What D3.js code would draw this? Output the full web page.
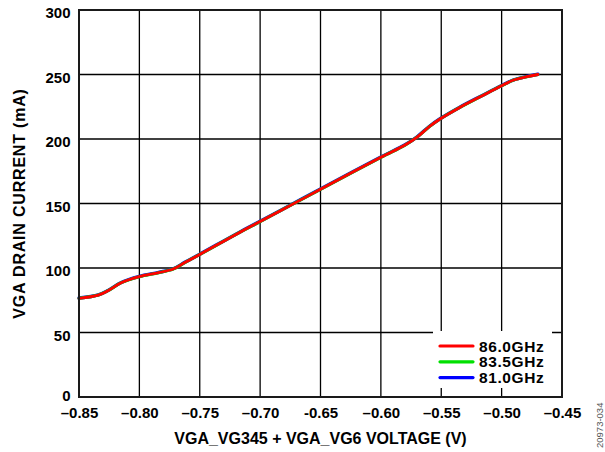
<!DOCTYPE html>
<html>
<head>
<meta charset="utf-8">
<script src="https://cdn.jsdelivr.net/npm/d3@7"></script>
<style>
  html, body { margin: 0; padding: 0; background: #fff; }
  svg { display: block; font-family: "Liberation Sans", Arial, sans-serif; font-weight: bold; }
</style>
</head>
<body>
<svg id="chart" width="605" height="452"></svg>
<script>
// ---- data ----
const voltage = [-0.85, -0.834, -0.826, -0.815, -0.80, -0.784, -0.772, -0.762, -0.75, -0.717, -0.70, -0.666, -0.65, -0.60, -0.58, -0.57, -0.56, -0.551, -0.535, -0.516, -0.50, -0.49, -0.479, -0.47];
const current86 = [76.5, 79, 82.4, 88.6, 93.3, 96.4, 99.2, 104.4, 110.5, 127.6, 136, 153, 161, 185.8, 195.3, 201.5, 209.5, 215.5, 224.3, 233.6, 241.3, 245.7, 248.3, 250];
const current835 = [76.5, 79, 82.4, 88.6, 93.3, 96.4, 99.2, 104.4, 110.5, 127.6, 136, 153, 161, 185.8, 195.3, 201.5, 209.5, 215.5, 224.3, 233.6, 241.3, 245.7, 248.3, 250];
const current81 = [76.7, 79.2, 82.6, 88.8, 93.5, 96.6, 99.4, 104.6, 110.7, 127.8, 136.2, 153.2, 161.2, 186, 195.5, 201.7, 209.7, 215.7, 224.5, 233.8, 241.5, 245.9, 248.5, 250.2];
const seriesNames = ["86.0GHz", "83.5GHz", "81.0GHz"];
const seriesColors = ["#ff0000", "#00e000", "#0000ff"];
const xTicks = [-0.85, -0.80, -0.75, -0.70, -0.65, -0.60, -0.55, -0.50, -0.45];
const xTickLabels = ["\u20130.85", "\u20130.80", "\u20130.75", "\u20130.70", "-0.65", "\u20130.60", "\u20130.55", "\u20130.50", "\u20130.45"];
const yTicks = [0, 50, 100, 150, 200, 250, 300];

// ---- layout ----
const svg = d3.select("#chart");
const L = 79, R = 562, T = 10, B = 397;
const x = d3.scaleLinear().domain([-0.85, -0.45]).range([L, R]);
const y = d3.scaleLinear().domain([0, 300]).range([B, T]);

// grid
const g = svg.append("g");
g.selectAll("line.vx").data(xTicks).join("line")
  .attr("x1", d => x(d)).attr("x2", d => x(d)).attr("y1", T).attr("y2", B)
  .attr("stroke", "#000").attr("stroke-width", 1.3);
g.selectAll("line.hy").data(yTicks).join("line")
  .attr("y1", d => y(d)).attr("y2", d => y(d)).attr("x1", L).attr("x2", R)
  .attr("stroke", "#000").attr("stroke-width", 1.3);

// axes labels via d3 axes (tick text only)
const xAxis = svg.append("g").attr("transform", `translate(0,${B})`)
  .call(d3.axisBottom(x).tickValues(xTicks).tickFormat((d, i) => xTickLabels[i]).tickSize(0).tickPadding(0));
xAxis.select(".domain").remove();
xAxis.selectAll("text").attr("dy", null).attr("y", 21)
  .attr("font-size", 15).attr("font-weight", "bold").attr("fill", "#000")
  .attr("font-family", "Liberation Sans, Arial, sans-serif");

const yAxis = svg.append("g").attr("transform", `translate(${L},0)`)
  .call(d3.axisLeft(y).tickValues(yTicks).tickFormat(d3.format("d")).tickSize(0).tickPadding(0));
yAxis.select(".domain").remove();
yAxis.selectAll("text").attr("x", -8.5).attr("dy", d => d === 0 ? "0.24em" : "0.52em")
  .attr("font-size", 15).attr("font-weight", "bold").attr("fill", "#000")
  .attr("font-family", "Liberation Sans, Arial, sans-serif");

// series
const line = d3.line().x(d => x(d[0])).y(d => y(d[1])).curve(d3.curveCatmullRom.alpha(0.5));
const seriesData = [current81, current835, current86];
const drawColors = [seriesColors[2], seriesColors[1], seriesColors[0]];
const widths = [3.4, 3.1, 2.8];
seriesData.forEach((vals, i) => {
  svg.append("path")
    .datum(voltage.map((v, j) => [v, vals[j]]))
    .attr("fill", "none").attr("stroke", drawColors[i])
    .attr("stroke-width", widths[i]).attr("stroke-linejoin", "round").attr("stroke-linecap", "round")
    .attr("d", line);
});

// frame
svg.append("rect").attr("x", L).attr("y", T).attr("width", R - L).attr("height", B - T)
  .attr("fill", "none").attr("stroke", "#1a1a1a").attr("stroke-width", 2);

// legend
const lg = svg.append("g");
lg.append("rect").attr("x", 433).attr("y", 331).attr("width", 119).attr("height", 57).attr("fill", "#fff");
seriesNames.forEach((name, i) => {
  const ly = 346 + i * 15.8;
  lg.append("line").attr("x1", 440).attr("x2", 473).attr("y1", ly).attr("y2", ly)
    .attr("stroke", seriesColors[i]).attr("stroke-width", 3.2).attr("stroke-linecap", "round");
  lg.append("text").attr("x", 479).attr("y", ly + 5.5).attr("font-size", 15.5)
    .attr("letter-spacing", 0.6).attr("fill", "#000").text(name);
});

// axis titles
svg.append("text").attr("x", (L + R) / 2).attr("y", 444).attr("text-anchor", "middle")
  .attr("font-size", 16).attr("fill", "#000").text("VGA_VG345 + VGA_VG6 VOLTAGE (V)");
svg.append("text").attr("transform", `translate(25,${(T + B) / 2}) rotate(-90)`)
  .attr("text-anchor", "middle").attr("font-size", 16).attr("letter-spacing", 0.8)
  .attr("fill", "#000").text("VGA DRAIN CURRENT (mA)");

// side figure code
svg.append("text").attr("transform", "translate(603,448) rotate(-90)")
  .attr("font-size", 9.5).attr("font-weight", "normal").attr("fill", "#555")
  .text("20973-034");
</script>
</body>
</html>
